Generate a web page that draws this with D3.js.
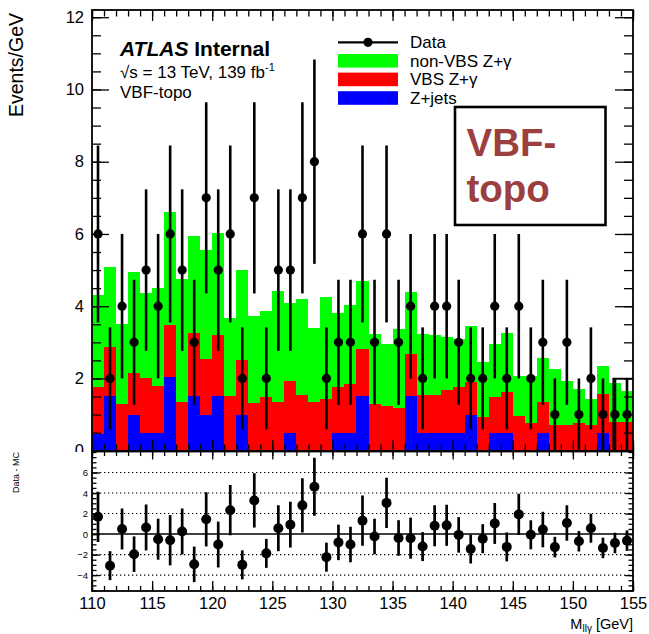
<!DOCTYPE html>
<html>
<head>
<meta charset="utf-8">
<script src="https://cdn.jsdelivr.net/npm/d3@7"></script>
<style>
  body { margin: 0; background: #fff; }
  svg { display: block; }
  text { font-family: "Liberation Sans", Arial, Helvetica, sans-serif; fill: #000; }
</style>
</head>
<body>
<svg id="chart" width="649" height="634"></svg>
<script>
// ---- binning (1 GeV bins in M_llγ) ----
const binLowEdges = [110,111,112,113,114,115,116,117,118,119,120,121,122,123,124,
                     125,126,127,128,129,130,131,132,133,134,135,136,137,138,139,
                     140,141,142,143,144,145,146,147,148,149,150,151,152,153,154];
const binWidth = 1;

// ---- observed events per bin ----
const dataCounts = [6,2,4,3,5,4,6,5,3,7,5,6,2,7,2,5,5,7,8,2,3,3,6,3,6,3,4,2,4,4,
                    3,2,2,4,2,4,2,3,1,3,1,2,1,1,1];

// ---- expected contributions (events/GeV), stacked bottom to top ----
const zJets = [0.46,1.51,0,1.00,0.49,0.49,2.04,0,1.51,1.00,1.51,0,1.00,0,0,
               0,0.48,0,0,0,0.48,0.48,1.51,0,0,0,1.51,0.48,0.48,0.48,
               0.48,1.00,0,0.48,0.48,0,0,0.48,0,0,0,0,0.48,0,0];
const vbsZgamma = [1.30,1.36,1.30,1.16,1.53,1.30,1.43,1.34,1.75,1.55,1.70,1.51,1.50,1.32,1.48,
                   1.36,1.46,1.53,1.34,1.42,1.28,1.37,1.31,1.30,1.25,1.19,1.16,1.07,1.07,1.19,
                   1.29,0.90,0.93,1.02,1.14,0.97,0.77,0.86,0.72,0.72,0.78,0.72,1.09,0.80,0.80];
const nonVbsZgamma = [2.56,2.21,2.20,2.80,2.34,2.71,3.13,3.41,2.69,3.01,2.81,2.16,2.50,2.40,2.40,
                      3.07,2.14,2.67,2.05,2.83,2.05,2.17,1.87,1.94,1.71,2.19,1.73,1.67,1.64,1.48,
                      1.31,1.55,1.52,1.46,1.63,1.11,1.30,1.22,1.55,1.20,0.92,0.71,0.78,1.07,0.84];

// ---- axis ticks ----
const xMajorTicks = [110,115,120,125,130,135,140,145,150,155];
const yMainTicks = [0,2,4,6,8,10,12];
const yRatioTicks = [-4,-2,0,2,4,6];
const yRatioGrid = [-4,-2,2,4,6];

// ---- legend / labels ----
const legendItems = [
  { label: "non-VBS Z+γ", color: "#00ff00" },
  { label: "VBS Z+γ",     color: "#ff0000" },
  { label: "Z+jets",      color: "#0000ff" }
];
// single-bin outline drawn at the upper end of the range
const tailOutline = { from: 153.35, to: 155, value: 2 };

// ---------------------------------------------------------------
const svg = d3.select("#chart");
const W = 649, H = 634;
const frame = { left: 92, right: 633, top: 10, mid: 451.5, bottom: 591 };

const x = d3.scaleLinear().domain([110, 155]).range([frame.left, frame.right]);
const y = d3.scaleLinear().domain([0, 12.2]).range([450.7, frame.top]);
const yr = d3.scaleLinear().domain([-5.55, 8.05]).range([frame.bottom, frame.mid]);

const rows = binLowEdges.map((lo, i) => ({
  lo, hi: lo + binWidth, centre: lo + binWidth / 2,
  zjets: zJets[i], vbs: vbsZgamma[i], nonvbs: nonVbsZgamma[i], data: dataCounts[i]
}));
rows.forEach(r => { r.total = r.zjets + r.vbs + r.nonvbs; });

const defs = svg.append("defs");
defs.append("clipPath").attr("id", "clipMain").append("rect")
  .attr("x", frame.left).attr("y", frame.top)
  .attr("width", frame.right - frame.left).attr("height", 451 - frame.top);
defs.append("clipPath").attr("id", "clipRatio").append("rect")
  .attr("x", frame.left).attr("y", frame.mid)
  .attr("width", frame.right - frame.left).attr("height", frame.bottom - frame.mid);

// ================= upper pad =================
const upperG = svg.append("g");

// stacked histogram
const keys = ["zjets", "vbs", "nonvbs"];
const colors = { zjets: "#0000ff", vbs: "#ff0000", nonvbs: "#00ff00" };
const stacked = d3.stack().keys(keys)(rows);
const stepArea = d3.area()
  .x(d => x(d.x)).y0(d => y(d.y0)).y1(d => y(d.y1));

const histG = upperG.append("g").attr("clip-path", "url(#clipMain)");
// draw from top of stack downward so lower layers sit on top of seams
[...stacked].reverse().forEach(layer => {
  const pts = [];
  layer.forEach(s => {
    pts.push({ x: s.data.lo, y0: 0, y1: s[1] });
    pts.push({ x: s.data.hi, y0: 0, y1: s[1] });
  });
  histG.append("path")
    .attr("d", stepArea(pts))
    .attr("fill", colors[layer.key])
    .attr("shape-rendering", "crispEdges");
});

// outline
histG.append("path")
  .attr("d", `M${x(tailOutline.from)},${y(0)}V${y(tailOutline.value)}H${x(tailOutline.to)}`)
  .attr("fill", "none").attr("stroke", "#000").attr("stroke-width", 1.5);

// data points with Poisson errors
const dataG = upperG.append("g").attr("clip-path", "url(#clipMain)");
dataG.selectAll("line.err").data(rows).join("line")
  .attr("x1", d => x(d.centre)).attr("x2", d => x(d.centre))
  .attr("y1", d => y(Math.max(0, d.data - Math.sqrt(d.data))))
  .attr("y2", d => y(d.data + Math.sqrt(d.data)))
  .attr("stroke", "#000").attr("stroke-width", 2.6);
dataG.selectAll("circle").data(rows).join("circle")
  .attr("cx", d => x(d.centre)).attr("cy", d => y(d.data)).attr("r", 4.6)
  .attr("fill", "#000");

// axes (ticks inward, ROOT style)
function styleAxis(g) {
  g.select(".domain").remove();
  g.selectAll(".tick line").attr("stroke", "#000").attr("stroke-width", 1.3);
}
const yMinorMain = d3.range(0, 12.01, 0.5);
const xMinor = d3.range(110, 155.01, 1);

upperG.append("g").attr("transform", `translate(${frame.left},0)`)
  .call(d3.axisLeft(y).tickValues(yMinorMain).tickSize(-9).tickFormat(""))
  .call(styleAxis);
upperG.append("g").attr("transform", `translate(${frame.left},0)`)
  .call(d3.axisLeft(y).tickValues(yMainTicks).tickSize(-17).tickPadding(8).tickFormat(d3.format("d")))
  .call(styleAxis)
  .call(g => g.selectAll("text").attr("font-size", 16.5).attr("font-family", "Liberation Sans, Arial, sans-serif"));
upperG.append("g").attr("transform", `translate(${frame.right},0)`)
  .call(d3.axisRight(y).tickValues(yMinorMain).tickSize(-9).tickFormat(""))
  .call(styleAxis);
upperG.append("g").attr("transform", `translate(${frame.right},0)`)
  .call(d3.axisRight(y).tickValues(yMainTicks).tickSize(-18).tickFormat(""))
  .call(styleAxis);
upperG.append("g").attr("transform", `translate(0,${frame.top})`)
  .call(d3.axisTop(x).tickValues(xMinor).tickSize(-6.5).tickFormat(""))
  .call(styleAxis);
upperG.append("g").attr("transform", `translate(0,${frame.top})`)
  .call(d3.axisTop(x).tickValues(xMajorTicks).tickSize(-11).tickFormat(""))
  .call(styleAxis);
upperG.append("g").attr("transform", `translate(0,451)`)
  .call(d3.axisBottom(x).tickValues(xMinor).tickSize(-6.5).tickFormat(""))
  .call(styleAxis);
upperG.append("g").attr("transform", `translate(0,451)`)
  .call(d3.axisBottom(x).tickValues(xMajorTicks).tickSize(-11).tickFormat(""))
  .call(styleAxis);

upperG.append("rect")
  .attr("x", frame.left).attr("y", frame.top)
  .attr("width", frame.right - frame.left).attr("height", 451 - frame.top)
  .attr("fill", "none").attr("stroke", "#000").attr("stroke-width", 1.8);

// y title
upperG.append("text")
  .attr("transform", "translate(22.5,13) rotate(-90)")
  .attr("text-anchor", "end").attr("font-size", 19.5)
  .text("Events/GeV");

// ATLAS label
const lab = upperG.append("text").attr("x", 120).attr("y", 56).attr("font-size", 21).attr("font-weight", "bold");
lab.append("tspan").attr("font-style", "italic").text("ATLAS");
lab.append("tspan").text(" Internal");
const lum = upperG.append("text").attr("x", 120).attr("y", 77.5).attr("font-size", 17);
lum.append("tspan").text("√s = 13 TeV, 139 fb");
lum.append("tspan").attr("font-size", 11).attr("dy", -7).text("-1");
upperG.append("text").attr("x", 120).attr("y", 98).attr("font-size", 17).text("VBF-topo");

// legend
const lg = upperG.append("g");
lg.append("line").attr("x1", 338).attr("x2", 398).attr("y1", 42.3).attr("y2", 42.3)
  .attr("stroke", "#000").attr("stroke-width", 2.2);
lg.append("circle").attr("cx", 368).attr("cy", 42.3).attr("r", 4.6).attr("fill", "#000");
lg.append("text").attr("x", 410).attr("y", 47.5).attr("font-size", 17).text("Data");
legendItems.forEach((it, i) => {
  const cy = 60.8 + i * 18.6;
  lg.append("rect").attr("x", 338).attr("y", cy - 6.8).attr("width", 60).attr("height", 13.6)
    .attr("fill", it.color);
  lg.append("text").attr("x", 410).attr("y", cy + 5.8).attr("font-size", 17).text(it.label);
});

// region box
upperG.append("rect").attr("x", 455).attr("y", 107).attr("width", 150.5).attr("height", 118)
  .attr("fill", "#fff").attr("stroke", "#000").attr("stroke-width", 2.6);
upperG.append("text").attr("x", 466.5).attr("y", 155.5).attr("font-size", 38.5)
  .attr("font-weight", "bold").style("fill", "#9c3f3f").text("VBF-");
upperG.append("text").attr("x", 466.5).attr("y", 202).attr("font-size", 38.5)
  .attr("font-weight", "bold").style("fill", "#9c3f3f").text("topo");

// ================= lower pad =================
svg.append("rect").attr("x", 0).attr("y", 452).attr("width", W).attr("height", H - 452).attr("fill", "#fff");
const lowerG = svg.append("g");

const ratioG = lowerG.append("g").attr("clip-path", "url(#clipRatio)");
ratioG.selectAll("line.grid").data(yRatioGrid).join("line")
  .attr("x1", frame.left).attr("x2", frame.right)
  .attr("y1", d => yr(d)).attr("y2", d => yr(d))
  .attr("stroke", "#000").attr("stroke-width", 1.1).attr("stroke-dasharray", "1.3,2.7");
ratioG.append("line").attr("x1", frame.left).attr("x2", frame.right)
  .attr("y1", yr(0)).attr("y2", yr(0)).attr("stroke", "#000").attr("stroke-width", 1.6);

ratioG.selectAll("line.err").data(rows).join("line")
  .attr("x1", d => x(d.centre)).attr("x2", d => x(d.centre))
  .attr("y1", d => yr(d.data - d.total - Math.sqrt(d.data)))
  .attr("y2", d => yr(d.data - d.total + Math.sqrt(d.data)))
  .attr("stroke", "#000").attr("stroke-width", 2.7);
ratioG.selectAll("circle").data(rows).join("circle")
  .attr("cx", d => x(d.centre)).attr("cy", d => yr(d.data - d.total)).attr("r", 5)
  .attr("fill", "#000");

const yMinorRatio = d3.range(-5.5, 8.01, 0.5);
lowerG.append("g").attr("transform", `translate(${frame.left},0)`)
  .call(d3.axisLeft(yr).tickValues(yMinorRatio).tickSize(-4.5).tickFormat(""))
  .call(styleAxis);
lowerG.append("g").attr("transform", `translate(${frame.left},0)`)
  .call(d3.axisLeft(yr).tickValues(yRatioTicks).tickSize(-8).tickPadding(4).tickFormat(d3.format("d")))
  .call(styleAxis)
  .call(g => g.selectAll("text").attr("font-size", 9.5).attr("font-family", "Liberation Sans, Arial, sans-serif"));
lowerG.append("g").attr("transform", `translate(${frame.right},0)`)
  .call(d3.axisRight(yr).tickValues(yMinorRatio).tickSize(-4.5).tickFormat(""))
  .call(styleAxis);
lowerG.append("g").attr("transform", `translate(${frame.right},0)`)
  .call(d3.axisRight(yr).tickValues(yRatioTicks).tickSize(-8).tickFormat(""))
  .call(styleAxis);
lowerG.append("g").attr("transform", `translate(0,${frame.mid})`)
  .call(d3.axisTop(x).tickValues(xMinor).tickSize(-4.5).tickFormat(""))
  .call(styleAxis);
lowerG.append("g").attr("transform", `translate(0,${frame.mid})`)
  .call(d3.axisTop(x).tickValues(xMajorTicks).tickSize(-8).tickFormat(""))
  .call(styleAxis);
lowerG.append("g").attr("transform", `translate(0,${frame.bottom})`)
  .call(d3.axisBottom(x).tickValues(xMinor).tickSize(-5).tickFormat(""))
  .call(styleAxis);
lowerG.append("g").attr("transform", `translate(0,${frame.bottom})`)
  .call(d3.axisBottom(x).tickValues(xMajorTicks).tickSize(-10).tickPadding(6).tickFormat(d3.format("d")))
  .call(styleAxis)
  .call(g => g.selectAll("text").attr("font-size", 16.5).attr("font-family", "Liberation Sans, Arial, sans-serif"));

lowerG.append("rect")
  .attr("x", frame.left).attr("y", frame.mid)
  .attr("width", frame.right - frame.left).attr("height", frame.bottom - frame.mid)
  .attr("fill", "none").attr("stroke", "#000").attr("stroke-width", 1.8);

lowerG.append("text")
  .attr("transform", "translate(19,472.5) rotate(-90)")
  .attr("text-anchor", "middle").attr("font-size", 9)
  .text("Data - MC");

const xt = lowerG.append("text").attr("x", frame.right).attr("y", 628.5)
  .attr("text-anchor", "end").attr("font-size", 14.5);
xt.append("tspan").text("M");
xt.append("tspan").attr("font-size", 10).attr("dy", 3.5).text("llγ");
xt.append("tspan").attr("dy", -3.5).text(" [GeV]");
</script>
</body>
</html>
